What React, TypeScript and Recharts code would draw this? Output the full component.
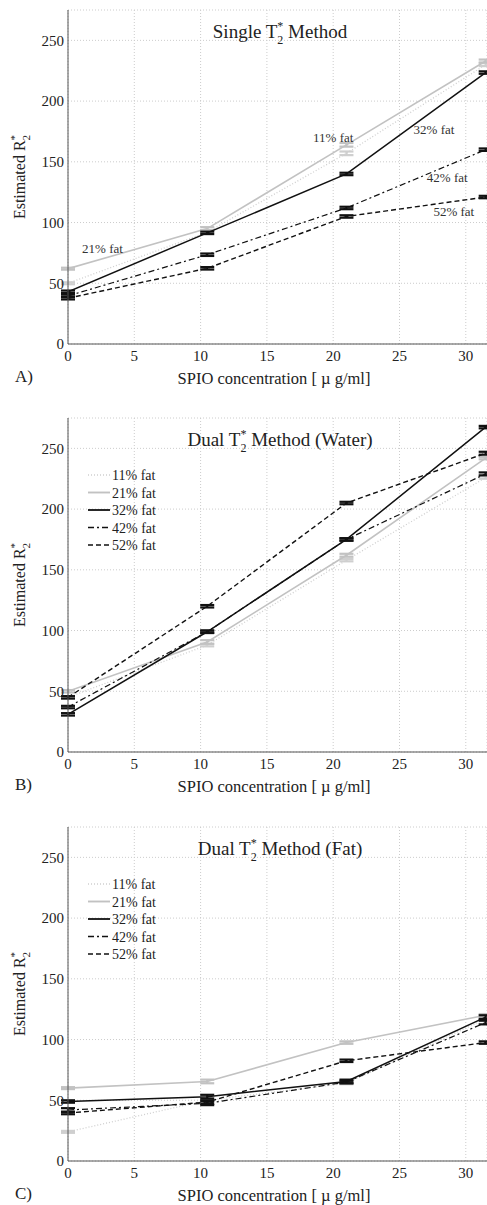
import React from 'react';
import { LineChart, Line, XAxis, YAxis, CartesianGrid, ErrorBar, ReferenceDot } from 'recharts';

// ---------- data ----------
const concentrations = [0, 10.5, 21, 31.5];
const seriesNames = ['11% fat', '21% fat', '32% fat', '42% fat', '52% fat'];
const xTicks = [0, 5, 10, 15, 20, 25, 30];
const yTicks = [0, 50, 100, 150, 200, 250];

// Panel A: Single T2* method
const singleFat11 = [50, 92, 157, 230];
const singleFat21 = [62, 95, 164, 233];
const singleFat32 = [43, 91.5, 140, 223.5];
const singleFat42 = [39.6, 73.5, 112, 160];
const singleFat52 = [37.7, 62.3, 105, 121];
const singleErr11 = [0.8, 1, 1.5, 1.2];
const singleErr21 = [0.8, 1.2, 1.5, 1.2];
const singleErr32 = [1, 1, 1, 1];
const singleErr42 = [1, 1, 1, 1];
const singleErr52 = [1, 1, 1, 1];

// Panel B: Dual T2* method (water)
const waterFat11 = [45, 88, 158, 226];
const waterFat21 = [50, 90.6, 162, 242];
const waterFat32 = [31, 99, 175, 267.5];
const waterFat42 = [37, 99, 175, 229];
const waterFat52 = [45, 120, 205, 246];
const waterErr11 = [0.8, 1, 1, 1];
const waterErr21 = [1, 1.5, 1.2, 1];
const waterErr32 = [1, 1, 1, 1];
const waterErr42 = [1, 1, 1, 1.2];
const waterErr52 = [1, 1, 1, 1.2];

// Panel C: Dual T2* method (fat)
const fatFat11 = [24, 50, 64, 117];
const fatFat21 = [60, 65.5, 97.5, 120];
const fatFat32 = [49, 53, 65.5, 118.5];
const fatFat42 = [42, 47.5, 65, 114];
const fatFat52 = [39.5, 48.5, 82.5, 97.5];
const fatErr11 = [0.8, 0.8, 0.8, 0.8];
const fatErr21 = [0.8, 1.5, 1, 1];
const fatErr32 = [1, 1.5, 1.5, 1.5];
const fatErr42 = [1.5, 1.5, 1, 1.5];
const fatErr52 = [1, 1.5, 1, 1];

// Panel A inline labels
const annotLabels = ['21% fat', '11% fat', '32% fat', '42% fat', '52% fat'];
const annotX = [2.6, 20.0, 27.6, 28.6, 29.1];
const annotY = [79, 170, 177, 137, 109];

// ---------- styles ----------
const FONT = '"Liberation Serif", "Times New Roman", serif';
const lineStyles = [
  { stroke: '#cfcfcf', dash: '1 2', width: 1.3 },
  { stroke: '#c2c2c2', dash: undefined as string | undefined, width: 1.6 },
  { stroke: '#111111', dash: undefined as string | undefined, width: 1.5 },
  { stroke: '#111111', dash: '6 3 2 3', width: 1.2 },
  { stroke: '#111111', dash: '5 3', width: 1.4 },
];

const W = 487;
const H = 409;
const PLOT_TOP = 10;
const PLOT_BOTTOM = 344;

function buildRows(values: number[][], errors: number[][]) {
  return concentrations.map((x, i) => {
    const row: Record<string, number> = { x };
    values.forEach((v, k) => {
      row['s' + k] = v[i];
      row['e' + k] = errors[k][i];
    });
    return row;
  });
}

type PanelProps = {
  top: number;
  title: string;
  titleSuffix: string;
  letter: string;
  values: number[][];
  errors: number[][];
  showLegend: boolean;
  showAnnotations: boolean;
};

function Panel({ top, title, titleSuffix, letter, values, errors, showLegend, showAnnotations }: PanelProps) {
  const rows = buildRows(values, errors);
  return (
    <div style={{ position: 'absolute', left: 0, top, width: W, height: H }}>
      <LineChart
        width={W}
        height={H}
        data={rows}
        margin={{ top: PLOT_TOP, right: 0, bottom: H - PLOT_BOTTOM - 30, left: 0 }}
      >
        <CartesianGrid stroke="#cccccc" strokeDasharray="1 2" />
        <XAxis
          type="number"
          dataKey="x"
          domain={[0, 31.6]}
          ticks={xTicks}
          height={30}
          tickLine={false}
          tickSize={0}
          tickMargin={6}
          axisLine={{ stroke: '#555' }}
          tick={{ fontSize: 15, fontFamily: FONT, fill: '#222' }}
          allowDataOverflow
        />
        <YAxis
          type="number"
          domain={[0, 275]}
          ticks={yTicks}
          width={68}
          tickLine={false}
          tickSize={0}
          tickMargin={4}
          axisLine={{ stroke: '#555' }}
          tick={{ fontSize: 15, fontFamily: FONT, fill: '#222' }}
          allowDataOverflow
        />
        {values.map((_, k) => (
          <Line
            key={k}
            type="linear"
            dataKey={'s' + k}
            name={seriesNames[k]}
            stroke={lineStyles[k].stroke}
            strokeWidth={lineStyles[k].width}
            strokeDasharray={lineStyles[k].dash}
            dot={false}
            activeDot={false}
            isAnimationActive={false}
          >
            <ErrorBar
              dataKey={'e' + k}
              direction="y"
              width={7}
              strokeWidth={2.2}
              stroke={lineStyles[k].stroke}
              isAnimationActive={false}
            />
          </Line>
        ))}
        {showAnnotations &&
          annotLabels.map((t, i) => (
            <ReferenceDot
              key={t}
              x={annotX[i]}
              y={annotY[i]}
              r={0}
              fill="none"
              stroke="none"
              label={{ value: t, position: 'center', fontSize: 13, fontFamily: FONT, fill: '#333' }}
            />
          ))}
      </LineChart>
      <svg
        width={W}
        height={H}
        style={{ position: 'absolute', left: 0, top: 0, pointerEvents: 'none' }}
        fontFamily={FONT}
      >
        <text x={280} y={38} textAnchor="middle" fontSize={19} fill="#222">
          {title} T
          <tspan dy={-8} fontSize={12}>*</tspan>
          <tspan dx={-6} dy={14} fontSize={12}>2</tspan>
          <tspan dy={-6}>{' ' + titleSuffix}</tspan>
        </text>
        <text transform="rotate(-90)" x={-177} y={25} textAnchor="middle" fontSize={16} fill="#222">
          Estimated R
          <tspan dy={-7} fontSize={11}>*</tspan>
          <tspan dx={-5.5} dy={12} fontSize={11}>2</tspan>
        </text>
        <text x={274} y={PLOT_BOTTOM + 40} textAnchor="middle" fontSize={16.5} fill="#222">
          SPIO concentration [ µ g/ml]
        </text>
        <text x={15} y={PLOT_BOTTOM + 38} fontSize={17} fill="#222">
          {letter}
        </text>
        {showLegend &&
          seriesNames.map((n, i) => {
            const cy = 67 + 17.5 * i;
            return (
              <g key={n}>
                <line
                  x1={88}
                  x2={110}
                  y1={cy}
                  y2={cy}
                  stroke={lineStyles[i].stroke}
                  strokeWidth={lineStyles[i].width + 0.3}
                  strokeDasharray={lineStyles[i].dash}
                />
                <text x={112} y={cy + 5} fontSize={14} fill="#222">
                  {n}
                </text>
              </g>
            );
          })}
      </svg>
    </div>
  );
}

export default function App() {
  return (
    <div style={{ position: 'absolute', left: 0, top: 0, width: 487, height: 1205, background: '#fff', fontFamily: FONT }}>
      <Panel
        top={0}
        title="Single"
        titleSuffix="Method"
        letter="A)"
        values={[singleFat11, singleFat21, singleFat32, singleFat42, singleFat52]}
        errors={[singleErr11, singleErr21, singleErr32, singleErr42, singleErr52]}
        showLegend={false}
        showAnnotations={true}
      />
      <Panel
        top={408}
        title="Dual"
        titleSuffix="Method (Water)"
        letter="B)"
        values={[waterFat11, waterFat21, waterFat32, waterFat42, waterFat52]}
        errors={[waterErr11, waterErr21, waterErr32, waterErr42, waterErr52]}
        showLegend={true}
        showAnnotations={false}
      />
      <Panel
        top={817}
        title="Dual"
        titleSuffix="Method (Fat)"
        letter="C)"
        values={[fatFat11, fatFat21, fatFat32, fatFat42, fatFat52]}
        errors={[fatErr11, fatErr21, fatErr32, fatErr42, fatErr52]}
        showLegend={true}
        showAnnotations={false}
      />
    </div>
  );
}
